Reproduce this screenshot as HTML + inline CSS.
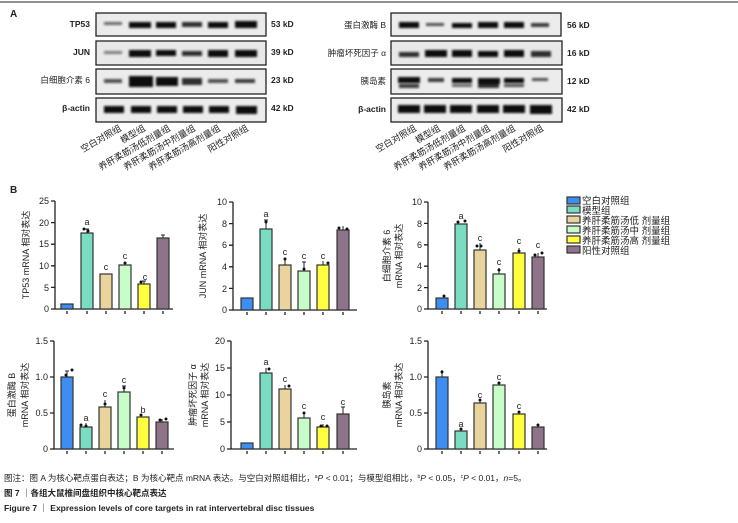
<!DOCTYPE html>
<html><head><meta charset="utf-8"><style>
body{margin:0;background:#fff;width:738px;height:523px;overflow:hidden}
svg{display:block}
text{font-family:"Liberation Sans","Noto Sans CJK SC",sans-serif;fill:#222}
.t{font-size:9px}
.l{font-size:8.5px;font-weight:bold}
.ax{stroke:#222;stroke-width:1.3;fill:none}
.b{stroke:#333;stroke-width:1.2}
.e{stroke:#222;stroke-width:1}
</style></head><body>
<svg width="738" height="523" viewBox="0 0 738 523">
<defs><filter id="bl" x="-20%" y="-100%" width="140%" height="300%"><feGaussianBlur stdDeviation="1.1"/></filter></defs>
<line x1="0" y1="2" x2="738" y2="2" stroke="#222" stroke-width="1"/>
<text x="10" y="17" style="font-size:10px;font-weight:bold">A</text>
<text x="10" y="193" style="font-size:10px;font-weight:bold">B</text>

<!-- left blots -->
<g>
<rect x="96" y="13" width="170" height="23" fill="#ebebeb" stroke="#222" stroke-width="1.3"/>
<rect x="96" y="41" width="170" height="24" fill="#e8e8e8" stroke="#222" stroke-width="1.3"/>
<rect x="96" y="69" width="170" height="25" fill="#ececec" stroke="#222" stroke-width="1.3"/>
<rect x="96" y="98" width="170" height="24" fill="#ececec" stroke="#222" stroke-width="1.3"/>
<g filter="url(#bl)" fill="#111">
<rect x="104" y="22" width="18" height="3" opacity=".6"/><rect x="129" y="22" width="22" height="6"/><rect x="156" y="22" width="20" height="6"/><rect x="182" y="22" width="20" height="5" opacity=".85"/><rect x="208" y="22" width="20" height="6"/><rect x="235" y="21" width="22" height="7"/>
<rect x="104" y="51" width="18" height="3" opacity=".5"/><rect x="129" y="50" width="22" height="7"/><rect x="156" y="50" width="20" height="6"/><rect x="182" y="51" width="20" height="5" opacity=".85"/><rect x="208" y="50" width="20" height="7"/><rect x="235" y="50" width="22" height="7"/>
<rect x="104" y="79" width="18" height="4" opacity=".7"/><rect x="129" y="76" width="24" height="11"/><rect x="156" y="77" width="22" height="9"/><rect x="182" y="78" width="20" height="7" opacity=".85"/><rect x="208" y="79" width="20" height="4" opacity=".7"/><rect x="235" y="79" width="20" height="4" opacity=".8"/>
<rect x="104" y="106" width="20" height="7"/><rect x="131" y="106" width="20" height="7"/><rect x="157" y="106" width="20" height="7"/><rect x="183" y="106" width="20" height="7"/><rect x="209" y="106" width="20" height="7"/><rect x="236" y="106" width="21" height="8"/>
</g>
</g>
<g class="l" text-anchor="end"><text x="90" y="27">TP53</text><text x="90" y="55">JUN</text><text x="90" y="83" style="font-weight:normal">白细胞介素 6</text><text x="90" y="111">β-actin</text></g>
<g class="l"><text x="271" y="27">53 kD</text><text x="271" y="55">39 kD</text><text x="271" y="83">23 kD</text><text x="271" y="111">42 kD</text></g>

<!-- right blots -->
<g>
<rect x="391" y="13" width="170" height="23" fill="#ececec" stroke="#222" stroke-width="1.3"/>
<rect x="391" y="41" width="171" height="24" fill="#e8e8e8" stroke="#222" stroke-width="1.3"/>
<rect x="391" y="69" width="171" height="25" fill="#ececec" stroke="#222" stroke-width="1.3"/>
<rect x="391" y="98" width="171" height="24" fill="#ececec" stroke="#222" stroke-width="1.3"/>
<g filter="url(#bl)" fill="#111">
<rect x="399" y="22" width="20" height="6"/><rect x="426" y="23" width="18" height="3" opacity=".7"/><rect x="452" y="23" width="20" height="5"/><rect x="478" y="22" width="20" height="6"/><rect x="504" y="22" width="20" height="6"/><rect x="531" y="23" width="18" height="4" opacity=".8"/>
<rect x="399" y="52" width="20" height="5" opacity=".85"/><rect x="425" y="50" width="22" height="7"/><rect x="452" y="50" width="20" height="7"/><rect x="478" y="51" width="20" height="6"/><rect x="504" y="50" width="20" height="7"/><rect x="531" y="51" width="20" height="6" opacity=".85"/>
<rect x="398" y="77" width="22" height="6"/><rect x="399" y="84" width="20" height="4" opacity=".8"/><rect x="428" y="78" width="16" height="4" opacity=".8"/><rect x="452" y="78" width="20" height="5"/><rect x="452" y="84" width="20" height="3" opacity=".6"/><rect x="478" y="78" width="22" height="6"/><rect x="478" y="84" width="21" height="4" opacity=".85"/><rect x="504" y="78" width="20" height="5"/><rect x="504" y="84" width="20" height="3" opacity=".7"/><rect x="532" y="78" width="16" height="3" opacity=".7"/>
<rect x="398" y="105" width="22" height="8"/><rect x="424" y="105" width="22" height="8"/><rect x="450" y="105" width="22" height="8"/><rect x="477" y="105" width="22" height="8"/><rect x="503" y="105" width="22" height="8"/><rect x="530" y="105" width="22" height="9"/>
</g>
</g>
<g class="l" text-anchor="end" style="font-weight:normal"><text x="386" y="28">蛋白激酶 B</text><text x="386" y="56">肿瘤坏死因子 α</text><text x="386" y="84">胰岛素</text><text x="386" y="112" style="font-weight:bold">β-actin</text></g>
<g class="l"><text x="567" y="28">56 kD</text><text x="567" y="56">16 kD</text><text x="567" y="84">12 kD</text><text x="567" y="112">42 kD</text></g>

<!-- lane labels -->
<g style="font-size:9px">
<text transform="translate(122,130) rotate(-30)" text-anchor="end">空白对照组</text>
<text transform="translate(146,130) rotate(-30)" text-anchor="end">模型组</text>
<text transform="translate(171,130) rotate(-30)" text-anchor="end">养肝柔筋汤低剂量组</text>
<text transform="translate(196,130) rotate(-30)" text-anchor="end">养肝柔筋汤中剂量组</text>
<text transform="translate(221,130) rotate(-30)" text-anchor="end">养肝柔筋汤高剂量组</text>
<text transform="translate(249,130) rotate(-30)" text-anchor="end">阳性对照组</text>
<text transform="translate(417,130) rotate(-30)" text-anchor="end">空白对照组</text>
<text transform="translate(441,130) rotate(-30)" text-anchor="end">模型组</text>
<text transform="translate(466,130) rotate(-30)" text-anchor="end">养肝柔筋汤低剂量组</text>
<text transform="translate(491,130) rotate(-30)" text-anchor="end">养肝柔筋汤中剂量组</text>
<text transform="translate(516,130) rotate(-30)" text-anchor="end">养肝柔筋汤高剂量组</text>
<text transform="translate(544,130) rotate(-30)" text-anchor="end">阳性对照组</text>
</g>

<!-- Chart 1 TP53 -->
<g>
<path class="ax" d="M55 201V309H173"/>
<path class="ax" d="M51 201H55M51 222.6H55M51 244.2H55M51 265.8H55M51 287.4H55M51 309H55"/>
<g class="t" text-anchor="end"><text x="49" y="204">25</text><text x="49" y="226">20</text><text x="49" y="247">15</text><text x="49" y="269">10</text><text x="49" y="291">5</text><text x="49" y="312">0</text></g>
<rect class="b" x="61" y="304" width="12" height="5" fill="#3d8ef0"/>
<rect class="b" x="81" y="233" width="12" height="76" fill="#7adcc0"/>
<rect class="b" x="100" y="274" width="12" height="35" fill="#e8d49c"/>
<rect class="b" x="119" y="265" width="12" height="44" fill="#c8fcc8"/>
<rect class="b" x="138" y="284" width="12" height="25" fill="#ffff40"/>
<rect class="b" x="157" y="238" width="12" height="71" fill="#8e7488"/>
<path class="e" d="M87 233V229M85 229H89M144 284V281M142 281H146M163 238V235M161 235H165"/>
<g fill="#111"><circle cx="84" cy="229" r="1.5"/><circle cx="88" cy="231" r="1.5"/><circle cx="125" cy="263" r="1.5"/><circle cx="141" cy="282" r="1.5"/></g>
<path class="ax" d="M67 311v3M87 311v3M106 311v3M125 311v3M144 311v3M163 311v3"/>
<g class="t" text-anchor="middle"><text x="87" y="225">a</text><text x="106" y="270">c</text><text x="125" y="259">c</text><text x="145" y="280">c</text></g>
<text transform="translate(29,255) rotate(-90)" class="t" text-anchor="middle">TP53 mRNA 相对表达</text>
</g>

<!-- Chart 2 JUN -->
<g>
<path class="ax" d="M233 202V310H357"/>
<path class="ax" d="M229 202H233M229 223.6H233M229 245.2H233M229 266.8H233M229 288.4H233M229 310H233"/>
<g class="t" text-anchor="end"><text x="227" y="205">10</text><text x="227" y="227">8</text><text x="227" y="248">6</text><text x="227" y="270">4</text><text x="227" y="292">2</text><text x="227" y="313">0</text></g>
<rect class="b" x="241" y="298" width="12" height="12" fill="#3d8ef0"/>
<rect class="b" x="260" y="229" width="12" height="81" fill="#7adcc0"/>
<rect class="b" x="279" y="265" width="12" height="45" fill="#e8d49c"/>
<rect class="b" x="298" y="271" width="12" height="39" fill="#c8fcc8"/>
<rect class="b" x="317" y="265" width="12" height="45" fill="#ffff40"/>
<rect class="b" x="337" y="230" width="12" height="80" fill="#8e7488"/>
<path class="e" d="M266 229V220M264 220H268M285 265V258M304 271V262M302 262H306M323 265V261M343 230V226"/>
<g fill="#111"><circle cx="266" cy="222" r="1.5"/><circle cx="285" cy="259" r="1.5"/><circle cx="304" cy="269" r="1.5"/><circle cx="328" cy="263" r="1.5"/><circle cx="339" cy="228" r="1.5"/><circle cx="347" cy="229" r="1.5"/></g>
<path class="ax" d="M247 312v3M266 312v3M285 312v3M304 312v3M323 312v3M343 312v3"/>
<g class="t" text-anchor="middle"><text x="266" y="217">a</text><text x="285" y="255">c</text><text x="304" y="259">c</text><text x="323" y="259">c</text></g>
<text transform="translate(206,256) rotate(-90)" class="t" text-anchor="middle">JUN mRNA 相对表达</text>
</g>

<!-- Chart 3 IL6 -->
<g>
<path class="ax" d="M428 202V309H547"/>
<path class="ax" d="M424 202H428M424 223.4H428M424 244.8H428M424 266.2H428M424 287.6H428M424 309H428"/>
<g class="t" text-anchor="end"><text x="422" y="205">10</text><text x="422" y="227">8</text><text x="422" y="248">6</text><text x="422" y="269">4</text><text x="422" y="291">2</text><text x="422" y="312">0</text></g>
<rect class="b" x="436" y="298" width="12" height="11" fill="#3d8ef0"/>
<rect class="b" x="455" y="224" width="12" height="85" fill="#7adcc0"/>
<rect class="b" x="474" y="250" width="12" height="59" fill="#e8d49c"/>
<rect class="b" x="493" y="274" width="12" height="35" fill="#c8fcc8"/>
<rect class="b" x="513" y="253" width="12" height="56" fill="#ffff40"/>
<rect class="b" x="532" y="257" width="12" height="52" fill="#8e7488"/>
<path class="e" d="M480 250V243M499 274V268M519 253V248M538 257V253"/>
<g fill="#111"><circle cx="444" cy="296" r="1.5"/><circle cx="458" cy="222" r="1.5"/><circle cx="465" cy="221" r="1.5"/><circle cx="477" cy="246" r="1.5"/><circle cx="481" cy="246" r="1.5"/><circle cx="499" cy="270" r="1.5"/><circle cx="519" cy="251" r="1.5"/><circle cx="535" cy="255" r="1.5"/><circle cx="542" cy="253" r="1.5"/></g>
<path class="ax" d="M442 311v3M461 311v3M480 311v3M499 311v3M519 311v3M538 311v3"/>
<g class="t" text-anchor="middle"><text x="461" y="219">a</text><text x="480" y="241">c</text><text x="499" y="265">c</text><text x="519" y="244">c</text><text x="538" y="248">c</text></g>
<text transform="translate(390,256) rotate(-90)" class="t" text-anchor="middle">白细胞介素 6</text>
<text transform="translate(402,256) rotate(-90)" class="t" text-anchor="middle">mRNA 相对表达</text>
</g>

<!-- legend -->
<g style="font-size:9.5px">
<rect class="b" x="567" y="197" width="13" height="7" fill="#3d8ef0"/><text x="582" y="204">空白对照组</text>
<rect class="b" x="567" y="206" width="13" height="7" fill="#7adcc0"/><text x="582" y="214">模型组</text>
<rect class="b" x="567" y="216" width="13" height="7" fill="#e8d49c"/><text x="582" y="224">养肝柔筋汤低 剂量组</text>
<rect class="b" x="567" y="226" width="13" height="7" fill="#c8fcc8"/><text x="582" y="234">养肝柔筋汤中 剂量组</text>
<rect class="b" x="567" y="236" width="13" height="7" fill="#ffff40"/><text x="582" y="244">养肝柔筋汤高 剂量组</text>
<rect class="b" x="567" y="246" width="13" height="7" fill="#8e7488"/><text x="582" y="254">阳性对照组</text>
</g>

<!-- Chart 4 AKT -->
<g>
<path class="ax" d="M54 341V449H174"/>
<path class="ax" d="M50 341H54M50 377H54M50 413H54M50 449H54"/>
<g class="t" text-anchor="end"><text x="48" y="344">1.5</text><text x="48" y="380">1.0</text><text x="48" y="416">0.5</text><text x="48" y="452">0</text></g>
<rect class="b" x="61" y="377" width="12" height="72" fill="#3d8ef0"/>
<rect class="b" x="80" y="427" width="12" height="22" fill="#7adcc0"/>
<rect class="b" x="99" y="407" width="12" height="42" fill="#e8d49c"/>
<rect class="b" x="118" y="392" width="12" height="57" fill="#c8fcc8"/>
<rect class="b" x="137" y="417" width="12" height="32" fill="#ffff40"/>
<rect class="b" x="156" y="422" width="12" height="27" fill="#8e7488"/>
<path class="e" d="M67 377V371M65 371H69M86 427V423M105 407V400M124 392V386M122 386H126M162 422V419"/>
<g fill="#111"><circle cx="66" cy="375" r="1.5"/><circle cx="72" cy="370" r="1.5"/><circle cx="81" cy="425" r="1.5"/><circle cx="86" cy="426" r="1.5"/><circle cx="105" cy="404" r="1.5"/><circle cx="124" cy="388" r="1.5"/><circle cx="141" cy="415" r="1.5"/><circle cx="160" cy="420" r="1.5"/><circle cx="166" cy="419" r="1.5"/></g>
<path class="ax" d="M67 451v3M86 451v3M105 451v3M124 451v3M143 451v3M162 451v3"/>
<g class="t" text-anchor="middle"><text x="86" y="421">a</text><text x="105" y="397">c</text><text x="124" y="383">c</text><text x="143" y="413">b</text></g>
<text transform="translate(15,395) rotate(-90)" class="t" text-anchor="middle">蛋白激酶 B</text>
<text transform="translate(28,395) rotate(-90)" class="t" text-anchor="middle">mRNA 相对表达</text>
</g>

<!-- Chart 5 TNF -->
<g>
<path class="ax" d="M231 341V449H357"/>
<path class="ax" d="M227 341H231M227 368H231M227 395H231M227 422H231M227 449H231"/>
<g class="t" text-anchor="end"><text x="225" y="344">20</text><text x="225" y="371">15</text><text x="225" y="398">10</text><text x="225" y="425">5</text><text x="225" y="452">0</text></g>
<rect class="b" x="241" y="443" width="12" height="6" fill="#3d8ef0"/>
<rect class="b" x="260" y="373" width="12" height="76" fill="#7adcc0"/>
<rect class="b" x="279" y="389" width="12" height="60" fill="#e8d49c"/>
<rect class="b" x="298" y="418" width="12" height="31" fill="#c8fcc8"/>
<rect class="b" x="317" y="427" width="12" height="22" fill="#ffff40"/>
<rect class="b" x="337" y="414" width="12" height="35" fill="#8e7488"/>
<path class="e" d="M266 373V368M285 389V385M304 418V412M323 427V424M343 414V407M341 407H345"/>
<g fill="#111"><circle cx="269" cy="369" r="1.5"/><circle cx="289" cy="386" r="1.5"/><circle cx="304" cy="413" r="1.5"/><circle cx="321" cy="426" r="1.5"/><circle cx="327" cy="426" r="1.5"/></g>
<path class="ax" d="M247 451v3M266 451v3M285 451v3M304 451v3M323 451v3M343 451v3"/>
<g class="t" text-anchor="middle"><text x="266" y="365">a</text><text x="285" y="382">c</text><text x="304" y="409">c</text><text x="323" y="420">c</text><text x="343" y="405">c</text></g>
<text transform="translate(196,395) rotate(-90)" class="t" text-anchor="middle">肿瘤坏死因子 α</text>
<text transform="translate(208,395) rotate(-90)" class="t" text-anchor="middle">mRNA 相对表达</text>
</g>

<!-- Chart 6 INS -->
<g>
<path class="ax" d="M428 341V449H547"/>
<path class="ax" d="M424 341H428M424 377H428M424 413H428M424 449H428"/>
<g class="t" text-anchor="end"><text x="422" y="344">1.5</text><text x="422" y="380">1.0</text><text x="422" y="416">0.5</text><text x="422" y="452">0</text></g>
<rect class="b" x="436" y="377" width="12" height="72" fill="#3d8ef0"/>
<rect class="b" x="455" y="431" width="12" height="18" fill="#7adcc0"/>
<rect class="b" x="474" y="403" width="12" height="46" fill="#e8d49c"/>
<rect class="b" x="493" y="385" width="12" height="64" fill="#c8fcc8"/>
<rect class="b" x="513" y="414" width="12" height="35" fill="#ffff40"/>
<rect class="b" x="532" y="427" width="12" height="22" fill="#8e7488"/>
<path class="e" d="M442 377V370M480 403V399"/>
<g fill="#111"><circle cx="442" cy="372" r="1.5"/><circle cx="461" cy="429" r="1.5"/><circle cx="480" cy="400" r="1.5"/><circle cx="499" cy="383" r="1.5"/><circle cx="519" cy="412" r="1.5"/><circle cx="538" cy="425" r="1.5"/></g>
<path class="ax" d="M442 451v3M461 451v3M480 451v3M499 451v3M519 451v3M538 451v3"/>
<g class="t" text-anchor="middle"><text x="461" y="427">a</text><text x="480" y="398">c</text><text x="499" y="380">c</text><text x="519" y="409">c</text></g>
<text transform="translate(390,395) rotate(-90)" class="t" text-anchor="middle">胰岛素</text>
<text transform="translate(402,395) rotate(-90)" class="t" text-anchor="middle">mRNA 相对表达</text>
</g>

<!-- caption -->
<g style="font-size:8.5px">
<text x="4" y="481">图注：图 A 为核心靶点蛋白表达；B 为核心靶点 mRNA 表达。与空白对照组相比，<tspan font-size="5" dy="-3">a</tspan><tspan dy="3" font-style="italic">P</tspan> &lt; 0.01；与模型组相比，<tspan font-size="5" dy="-3">b</tspan><tspan dy="3" font-style="italic">P</tspan> &lt; 0.05，<tspan font-size="5" dy="-3">c</tspan><tspan dy="3" font-style="italic">P</tspan> &lt; 0.01，<tspan font-style="italic">n</tspan>=5。</text>
<text x="4" y="496" style="font-weight:bold">图 7 ｜各组大鼠椎间盘组织中核心靶点表达</text>
<text x="4" y="511" style="font-weight:bold">Figure 7 ｜ Expression levels of core targets in rat intervertebral disc tissues</text>
</g>
</svg>
</body></html>
